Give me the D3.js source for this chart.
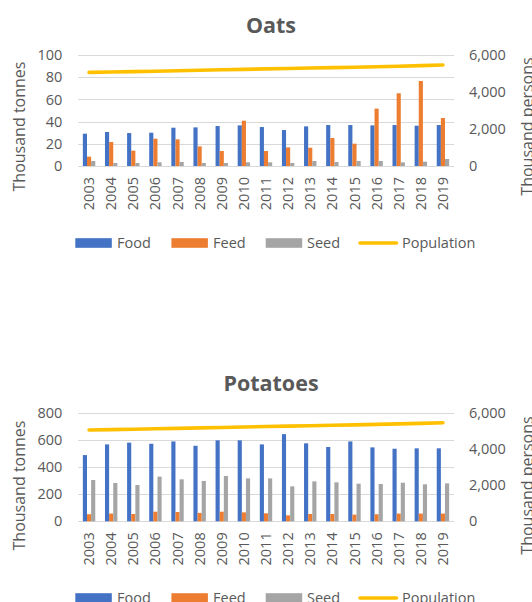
<!DOCTYPE html>
<html>
<head>
<meta charset="utf-8">
<script src="https://cdn.jsdelivr.net/npm/d3@7"></script>
<style>
  html, body { margin: 0; padding: 0; background: #fff; }
  svg { display: block; font-family: "Open Sans", "DejaVu Sans", sans-serif; }
</style>
</head>
<body>
<svg id="chart" width="532" height="602"></svg>
<script>
// ---- data ----
const years = ["2003","2004","2005","2006","2007","2008","2009","2010","2011","2012","2013","2014","2015","2016","2017","2018","2019"];
const seriesNames = ["Food", "Feed", "Seed", "Population"];

const oatsFood = [29.1, 30.6, 29.7, 30.0, 34.5, 34.8, 36.0, 36.6, 35.1, 32.4, 35.7, 36.9, 36.9, 36.6, 36.9, 36.3, 36.9];
const oatsFeed = [8.4, 21.6, 13.8, 24.6, 24.0, 17.7, 13.5, 40.8, 13.5, 16.8, 16.5, 25.2, 20.1, 51.7, 65.5, 76.6, 43.2];
const oatsSeed = [4.5, 2.7, 2.7, 3.3, 3.6, 2.7, 2.7, 3.3, 3.3, 2.7, 4.5, 3.6, 4.5, 4.5, 3.3, 3.9, 6.3];

const potFood = [489, 568, 581, 573, 590, 558, 598, 598, 568, 644, 576, 549, 590, 546, 536, 539, 539];
const potFeed = [52, 57, 54, 71, 69, 62, 71, 66, 59, 44, 54, 54, 49, 52, 57, 57, 57];
const potSeed = [305, 283, 268, 330, 310, 298, 335, 317, 317, 258, 295, 288, 278, 276, 285, 273, 280];

const population = [5060, 5080, 5100, 5125, 5150, 5175, 5200, 5225, 5250, 5272, 5295, 5318, 5340, 5368, 5395, 5425, 5460];

const oatsTicks = [0, 20, 40, 60, 80, 100];
const potTicks = [0, 200, 400, 600, 800];
const popTicks = [0, 2000, 4000, 6000];

// ---- style ----
const colors = { Food: "#4472C4", Feed: "#ED7D31", Seed: "#A5A5A5", Population: "#FFC000" };
const textColor = "#595959";
const gridColor = "#D9D9D9";

const svg = d3.select("#chart");

function drawChart(cfg) {
  const g = svg.append("g");
  const x = d3.scaleBand().domain(years).range([78, 454]).paddingInner(0).paddingOuter(0);
  const inner = d3.scaleBand().domain(["Food", "Feed", "Seed"])
    .range([x.bandwidth() / 2 - 6.2, x.bandwidth() / 2 + 6.2]);
  const y = d3.scaleLinear().domain([0, cfg.yMax]).range([cfg.bottom, cfg.top]);
  const y2 = d3.scaleLinear().domain([0, 6000]).range([cfg.bottom, cfg.top]);

  // title
  g.append("text")
    .attr("x", 271).attr("y", cfg.titleY)
    .attr("text-anchor", "middle")
    .attr("font-size", 21.5).attr("font-weight", "bold")
    .attr("fill", textColor)
    .text(cfg.title);

  // gridlines
  g.append("g").selectAll("line").data(cfg.ticks).join("line")
    .attr("x1", 78).attr("x2", 454)
    .attr("y1", d => Math.round(y(d)) + 0.5).attr("y2", d => Math.round(y(d)) + 0.5)
    .attr("stroke", gridColor).attr("stroke-width", 1.2);

  // left axis
  const left = g.append("g").attr("transform", "translate(78,0)")
    .call(d3.axisLeft(y).tickValues(cfg.ticks).tickSize(0).tickPadding(15.7).tickFormat(d3.format(",")));
  left.select(".domain").remove();
  left.selectAll("text").attr("fill", textColor).attr("font-size", 14.5).attr("font-family", "Open Sans");

  // right axis
  const right = g.append("g").attr("transform", "translate(454,0)")
    .call(d3.axisRight(y2).tickValues(popTicks).tickSize(0).tickPadding(15).tickFormat(d3.format(",")));
  right.select(".domain").remove();
  right.selectAll("text").attr("fill", textColor).attr("font-size", 14.5).attr("font-family", "Open Sans");

  // bottom axis (years)
  const bottom = g.append("g").attr("transform", `translate(0,${cfg.bottom})`)
    .call(d3.axisBottom(x).tickSize(0).tickPadding(0));
  bottom.select(".domain").remove();
  bottom.selectAll("text")
    .attr("fill", textColor).attr("font-size", 14.5).attr("font-family", "Open Sans")
    .attr("text-anchor", "end")
    .attr("transform", "rotate(-90)")
    .attr("x", -11).attr("y", 0).attr("dy", "0.35em");

  // bars
  const barData = [];
  years.forEach((yr, i) => {
    barData.push({ yr, s: "Food", v: cfg.food[i] });
    barData.push({ yr, s: "Feed", v: cfg.feed[i] });
    barData.push({ yr, s: "Seed", v: cfg.seed[i] });
  });
  g.append("g").selectAll("rect").data(barData).join("rect")
    .attr("x", d => x(d.yr) + inner(d.s))
    .attr("width", inner.bandwidth())
    .attr("y", d => y(d.v))
    .attr("height", d => cfg.bottom - y(d.v))
    .attr("fill", d => colors[d.s]);

  // population line
  const line = d3.line().x((d, i) => x(years[i]) + x.bandwidth() / 2).y(d => y2(d));
  g.append("path").datum(population)
    .attr("d", line)
    .attr("fill", "none")
    .attr("stroke", colors.Population)
    .attr("stroke-width", 3.6)
    .attr("stroke-linecap", "round");

  // axis titles
  const midY = cfg.titleMid;
  g.append("text")
    .attr("transform", `translate(19.5,${midY}) rotate(-90)`)
    .attr("text-anchor", "middle").attr("dy", "0.35em")
    .attr("font-size", 16).attr("fill", textColor)
    .text("Thousand tonnes");
  g.append("text")
    .attr("transform", `translate(527.5,${midY}) rotate(-90)`)
    .attr("text-anchor", "middle").attr("dy", "0.35em")
    .attr("font-size", 16).attr("fill", textColor)
    .text("Thousand persons");

  // legend
  const ly = cfg.legendY;
  const items = [
    { s: "Food", x: 75.3, tx: 117 },
    { s: "Feed", x: 171.4, tx: 213 },
    { s: "Seed", x: 265.7, tx: 307 },
    { s: "Population", x: 359, tx: 402 }
  ];
  const lg = g.append("g");
  items.forEach(it => {
    if (it.s === "Population") {
      lg.append("line").attr("x1", it.x + 1).attr("x2", it.x + 37.5)
        .attr("y1", ly).attr("y2", ly)
        .attr("stroke", colors[it.s]).attr("stroke-width", 3.6).attr("stroke-linecap", "round");
    } else {
      lg.append("rect").attr("x", it.x).attr("y", ly - 4.8)
        .attr("width", 36.5).attr("height", 9.6).attr("fill", colors[it.s]);
    }
    lg.append("text").attr("x", it.tx).attr("y", ly).attr("dy", "0.35em")
      .attr("font-size", 14.5).attr("fill", textColor).text(it.s);
  });
}

drawChart({
  title: "Oats", titleY: 32.5, top: 55, bottom: 166, yMax: 100, ticks: oatsTicks,
  food: oatsFood, feed: oatsFeed, seed: oatsSeed, titleMid: 126.5, legendY: 243
});
drawChart({
  title: "Potatoes", titleY: 390.5, top: 413, bottom: 521.3, yMax: 800, ticks: potTicks,
  food: potFood, feed: potFeed, seed: potSeed, titleMid: 485.5, legendY: 598
});
</script>
</body>
</html>
